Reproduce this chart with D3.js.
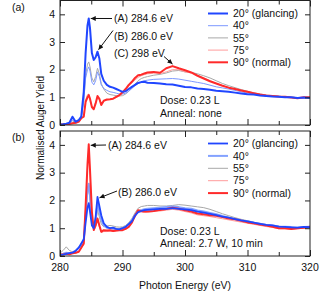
<!DOCTYPE html>
<html><head><meta charset="utf-8">
<script src="https://cdn.jsdelivr.net/npm/d3@7"></script>
<style>body{margin:0;background:#fff}svg{display:block}text{font-family:"Liberation Sans",Arial,sans-serif;fill:#111}</style>
</head><body>
<svg id="c" width="335" height="294"></svg>
<script>
const energy = [280,280.5,281,281.5,282,282.5,283,283.4,283.8,284.1,284.4,284.6,284.8,285.1,285.4,285.7,286.0,286.3,286.6,287.0,287.5,288,288.5,289,289.5,290,290.5,291,291.5,292,292.5,293,293.5,294,295,296,297,298,299,300,301,302,303,304,305,306,307,308,309,310,311,312,313,314,315,316,317,318,319,320];

const a20 = [0.02,0.03,0.05,0.08,0.3,0.12,0.18,0.3,1.2,2.6,3.6,3.85,3.5,2.6,2.35,2.45,2.65,2.4,1.85,1.6,1.45,1.38,1.35,1.3,1.25,1.2,1.22,1.3,1.38,1.45,1.52,1.55,1.56,1.53,1.52,1.5,1.47,1.46,1.42,1.37,1.36,1.32,1.3,1.27,1.24,1.22,1.2,1.17,1.14,1.11,1.1,1.07,1.05,1.03,1.02,1.0,1.0,0.98,0.99,0.98];
const a40 = [0.02,0.03,0.05,0.07,0.18,0.1,0.15,0.28,0.9,1.7,2.0,2.1,1.95,1.55,1.45,1.6,1.92,1.75,1.45,1.32,1.25,1.2,1.18,1.15,1.12,1.12,1.15,1.22,1.32,1.42,1.5,1.56,1.6,1.62,1.65,1.66,1.67,1.68,1.66,1.62,1.58,1.54,1.5,1.44,1.38,1.34,1.3,1.25,1.2,1.15,1.12,1.1,1.07,1.05,1.03,1.02,1.0,0.99,0.99,0.98];
const a55 = [0.02,0.03,0.04,0.06,0.15,0.08,0.12,0.25,0.85,1.8,2.2,2.28,2.1,1.7,1.56,1.75,2.05,1.85,1.5,1.3,1.15,1.1,1.08,1.06,1.05,1.06,1.12,1.22,1.35,1.48,1.6,1.68,1.72,1.75,1.8,1.83,1.88,1.95,1.97,1.92,1.9,1.85,1.78,1.7,1.6,1.5,1.42,1.35,1.28,1.22,1.16,1.12,1.08,1.06,1.04,1.02,1.0,0.99,0.99,0.98];
const a75 = [0.02,0.02,0.03,0.05,0.08,0.06,0.1,0.22,0.35,0.9,1.1,1.12,0.95,0.65,0.6,0.8,1.0,0.9,0.75,0.85,0.9,0.92,0.95,1.0,1.05,1.12,1.25,1.4,1.52,1.63,1.72,1.78,1.82,1.85,1.87,1.86,1.92,2.0,2.0,1.92,1.88,1.8,1.7,1.6,1.5,1.42,1.35,1.3,1.24,1.18,1.14,1.1,1.06,1.04,1.02,1.0,0.99,0.98,0.99,1.0];
const a90 = [0.02,0.02,0.03,0.04,0.06,0.08,0.12,0.25,0.3,0.84,1.0,1.08,0.95,0.65,0.57,0.78,1.05,0.95,0.72,0.88,0.92,0.93,0.95,1.02,1.08,1.18,1.3,1.45,1.56,1.7,1.8,1.82,1.86,1.9,1.92,1.89,2.05,2.13,2.05,1.98,1.9,1.78,1.68,1.58,1.5,1.42,1.35,1.3,1.25,1.2,1.15,1.1,1.07,1.05,1.03,1.02,0.99,0.97,1.0,1.0];

const b20 = [0.03,0.05,0.08,0.1,0.12,0.18,0.3,0.45,0.6,1.2,1.75,1.9,1.6,1.1,1.0,1.4,2.13,1.8,1.47,1.18,1.05,1.0,1.02,0.98,0.96,1.0,1.05,1.15,1.25,1.45,1.58,1.62,1.65,1.66,1.68,1.7,1.7,1.72,1.7,1.68,1.65,1.6,1.56,1.52,1.47,1.42,1.38,1.33,1.28,1.25,1.2,1.16,1.12,1.1,1.06,1.05,1.03,1.02,1.05,1.04];
const b40 = [0.05,0.08,0.12,0.1,0.12,0.2,0.3,0.4,0.55,1.5,2.4,2.6,2.2,1.3,1.05,1.3,1.9,1.6,1.3,1.1,1.02,1.0,0.98,0.96,0.97,1.0,1.05,1.15,1.28,1.48,1.6,1.65,1.68,1.7,1.72,1.74,1.76,1.78,1.76,1.72,1.7,1.64,1.6,1.55,1.5,1.44,1.38,1.33,1.28,1.24,1.2,1.16,1.12,1.1,1.06,1.05,1.04,1.02,1.04,1.05];
const b55 = [0.1,0.2,0.33,0.2,0.15,0.2,0.3,0.4,0.55,1.3,2.2,2.45,2.0,1.2,1.0,1.2,1.65,1.4,1.15,1.05,1.08,1.1,1.08,1.05,1.04,1.05,1.1,1.2,1.35,1.55,1.72,1.78,1.8,1.82,1.82,1.8,1.8,1.82,1.85,1.83,1.8,1.77,1.74,1.68,1.6,1.52,1.45,1.38,1.32,1.27,1.22,1.17,1.13,1.1,1.07,1.05,1.03,1.02,1.03,1.04];
const b75 = [0.05,0.06,0.1,0.12,0.15,0.1,0.15,0.3,0.4,1.6,3.2,3.85,3.0,1.5,0.9,1.05,1.3,1.05,0.85,0.88,0.88,0.9,0.88,0.9,0.92,0.93,0.97,1.05,1.2,1.42,1.58,1.58,1.57,1.58,1.6,1.62,1.65,1.68,1.65,1.6,1.55,1.48,1.45,1.42,1.38,1.34,1.3,1.26,1.22,1.18,1.14,1.1,1.06,1.03,0.98,0.98,0.96,0.98,1.0,1.02];
const b90 = [0.05,0.05,0.08,0.06,0.1,0.12,0.15,0.3,0.45,1.8,3.3,4.02,3.1,1.6,0.94,1.1,1.35,1.1,0.87,0.93,0.92,0.93,0.9,0.92,0.93,0.93,0.98,1.05,1.2,1.45,1.65,1.62,1.6,1.6,1.62,1.66,1.69,1.74,1.7,1.65,1.6,1.53,1.5,1.47,1.45,1.4,1.35,1.32,1.27,1.21,1.18,1.13,1.1,1.05,1.0,1.0,0.97,1.0,1.02,1.05];

const seriesLabels = ["20° (glancing)","40°","55°","75°","90° (normal)"];
const xTicks = [280,290,300,310,320];
const xMinor = [285,295,305,315];
const yTicks = [0,1,2,3,4];

const svg = d3.select("#c");
const x = d3.scaleLinear().domain([280,320]).range([60,310]);

const stylesA = [
  {c:"#2046ff",w:2},{c:"#7d98ff",w:1},{c:"#a8a8a8",w:1},{c:"#ff9c9c",w:1},{c:"#ff2a2a",w:2}];
const stylesB = [
  {c:"#2046ff",w:1.8},{c:"#84a2ff",w:2},{c:"#a8a8a8",w:1},{c:"#ff9c9c",w:1},{c:"#ff2a2a",w:2}];

const defs = svg.append("defs");
defs.append("marker").attr("id","ah").attr("viewBox","0 0 10 10").attr("refX",10).attr("refY",5)
  .attr("markerWidth",7).attr("markerHeight",5).attr("orient","auto-start-reverse").attr("markerUnits","userSpaceOnUse")
  .append("path").attr("d","M0,0L10,5L0,10z").attr("fill","#111");

function panel(top, bottom, data, styles, order, id){
  const y = d3.scaleLinear().domain([0,4.5]).range([bottom, top]);
  const g = svg.append("g");
  defs.append("clipPath").attr("id",id).append("rect").attr("x",60).attr("y",top).attr("width",250).attr("height",bottom-top);
  const line = d3.line().x((d,i)=>x(energy[i])).y(d=>y(d));
  const lg = g.append("g").attr("clip-path",`url(#${id})`);
  order.forEach(k=>{
    lg.append("path").attr("d",line(data[k])).attr("fill","none")
      .attr("stroke",styles[k].c).attr("stroke-width",styles[k].w).attr("stroke-linejoin","round");
  });
  g.append("rect").attr("x",60).attr("y",top).attr("width",250).attr("height",bottom-top)
    .attr("fill","none").attr("stroke","#222").attr("stroke-width",1);
  const yl = g.append("g").attr("transform","translate(60,0)").call(d3.axisRight(y).tickValues(yTicks).tickSize(5).tickFormat(""));
  yl.select(".domain").remove();
  const yr = g.append("g").attr("transform","translate(310,0)").call(d3.axisLeft(y).tickValues(yTicks).tickSize(5).tickFormat(""));
  yr.select(".domain").remove();
  yTicks.forEach(t=>{
    g.append("text").attr("x",55).attr("y",y(t)).attr("dy","0.35em").attr("text-anchor","end").attr("font-size",10.5).text(t);
  });
  [[bottom, d3.axisTop],[top, d3.axisBottom]].forEach(([yy,ax])=>{
    const a1 = g.append("g").attr("transform",`translate(0,${yy})`).call(ax(x).tickValues(xTicks).tickSize(6).tickFormat(""));
    a1.select(".domain").remove();
    const a2 = g.append("g").attr("transform",`translate(0,${yy})`).call(ax(x).tickValues(xMinor).tickSize(4).tickFormat(""));
    a2.select(".domain").remove();
  });
  g.selectAll(".tick line").attr("stroke","#222");
  return y;
}

const A = [a20,a40,a55,a75,a90];
const B = [b20,b40,b55,b75,b90];
const ya = panel(0.5,125,A,stylesA,[2,3,1,4,0],"ca");
const yb = panel(131,256,B,stylesB,[2,3,1,4,0],"cb");

function legend(y0, dy, styles){
  seriesLabels.forEach((s,i)=>{
    const yy = y0 + i*dy;
    svg.append("line").attr("x1",208).attr("x2",228).attr("y1",yy).attr("y2",yy)
      .attr("stroke",styles[i].c).attr("stroke-width",styles[i].w);
    svg.append("text").attr("x",233).attr("y",yy).attr("dy","0.35em").attr("font-size",10.5).text(s);
  });
}
legend(13.5,12.2,stylesA);
legend(143.5,12.4,stylesB);

function label(tx,ty,s){ svg.append("text").attr("x",tx).attr("y",ty).attr("dy","0.35em").attr("font-size",10.5).text(s); }
function arrow(x1,y1,x2,y2){ svg.append("line").attr("x1",x1).attr("y1",y1).attr("x2",x2).attr("y2",y2)
  .attr("stroke","#111").attr("stroke-width",1).attr("marker-end","url(#ah)"); }

label(114,18.5,"(A) 284.6 eV"); arrow(112,18.5,x(284.6)+2,ya(3.85));
label(114,36,"(B) 286.0 eV"); arrow(113,30.5,x(286.0)+1,ya(2.65)-2);
label(114,53.5,"(C) 298 eV"); arrow(164,56.5,x(298),ya(2.13)-2);
label(160,100,"Dose: 0.23 L"); label(160,113,"Anneal: none");
label(108,145,"(A) 284.6 eV"); arrow(106,145,x(284.6)+2,yb(4.02)+1);
label(118,192,"(B) 286.0 eV"); arrow(117,191,x(286.0)+2,yb(2.13)+1);
label(160,231,"Dose: 0.23 L"); label(160,243.5,"Anneal: 2.7 W, 10 min");

svg.append("text").attr("x",12).attr("y",11).attr("font-size",10.5).text("(a)");
svg.append("text").attr("x",12).attr("y",141).attr("font-size",10.5).text("(b)");

xTicks.forEach(t=>{
  svg.append("text").attr("x",x(t)).attr("y",267).attr("dy","0.35em").attr("text-anchor","middle").attr("font-size",10.5).text(t);
});
svg.append("text").attr("x",185).attr("y",285.5).attr("dy","0.35em").attr("text-anchor","middle").attr("font-size",10.5).text("Photon Energy (eV)");
svg.append("text").attr("transform","translate(40,128) rotate(-90)").attr("dy","0.35em").attr("text-anchor","middle").attr("font-size",10).text("Normalised Auger Yield");
</script>
</body></html>
